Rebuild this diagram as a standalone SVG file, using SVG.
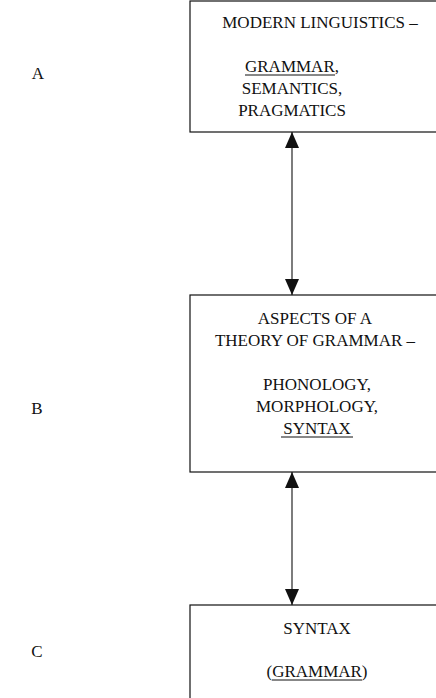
<svg xmlns="http://www.w3.org/2000/svg" width="436" height="698" viewBox="0 0 436 698">
<style>
text{font-family:"Liberation Serif","Times New Roman",serif;font-size:17px;fill:#111;text-anchor:middle}
.box{fill:none;stroke:#111;stroke-width:1.2}
.u{stroke:#111;stroke-width:1}
.conn{stroke:#111;stroke-width:1.1;fill:none}
</style>
<defs>
<marker id="ah" viewBox="0 0 16 14" refX="16" refY="7" markerWidth="16" markerHeight="14" markerUnits="userSpaceOnUse" orient="auto-start-reverse">
<path d="M0,0 L16,7 L0,14 z" fill="#111"/>
</marker>
</defs>
<g id="labels">
<text x="38" y="79">A</text>
<text x="37" y="414">B</text>
<text x="37" y="657">C</text>
</g>
<g id="nodeA">
<rect class="box" x="190" y="1" width="260" height="131"/>
<text x="320" y="28">MODERN LINGUISTICS –</text>
<text x="292" y="72">GRAMMAR,</text>
<line class="u" x1="245" y1="75" x2="335" y2="75"/>
<text x="292" y="94">SEMANTICS,</text>
<text x="292" y="116">PRAGMATICS</text>
</g>
<g id="nodeB">
<rect class="box" x="190" y="295" width="260" height="177"/>
<text x="315" y="324">ASPECTS OF A</text>
<text x="315" y="346">THEORY OF GRAMMAR –</text>
<text x="317" y="390">PHONOLOGY,</text>
<text x="317" y="412">MORPHOLOGY,</text>
<text x="317" y="434">SYNTAX</text>
<line class="u" x1="281" y1="437" x2="353" y2="437"/>
</g>
<g id="nodeC">
<rect class="box" x="190" y="605" width="260" height="100"/>
<text x="317" y="634">SYNTAX</text>
<text x="317" y="677">(GRAMMAR)</text>
<line class="u" x1="272" y1="680" x2="362" y2="680"/>
</g>
<g id="connectors">
<line class="conn" x1="292" y1="132" x2="292" y2="295" marker-start="url(#ah)" marker-end="url(#ah)"/>
<line class="conn" x1="292" y1="472" x2="292" y2="605" marker-start="url(#ah)" marker-end="url(#ah)"/>
</g>
</svg>
